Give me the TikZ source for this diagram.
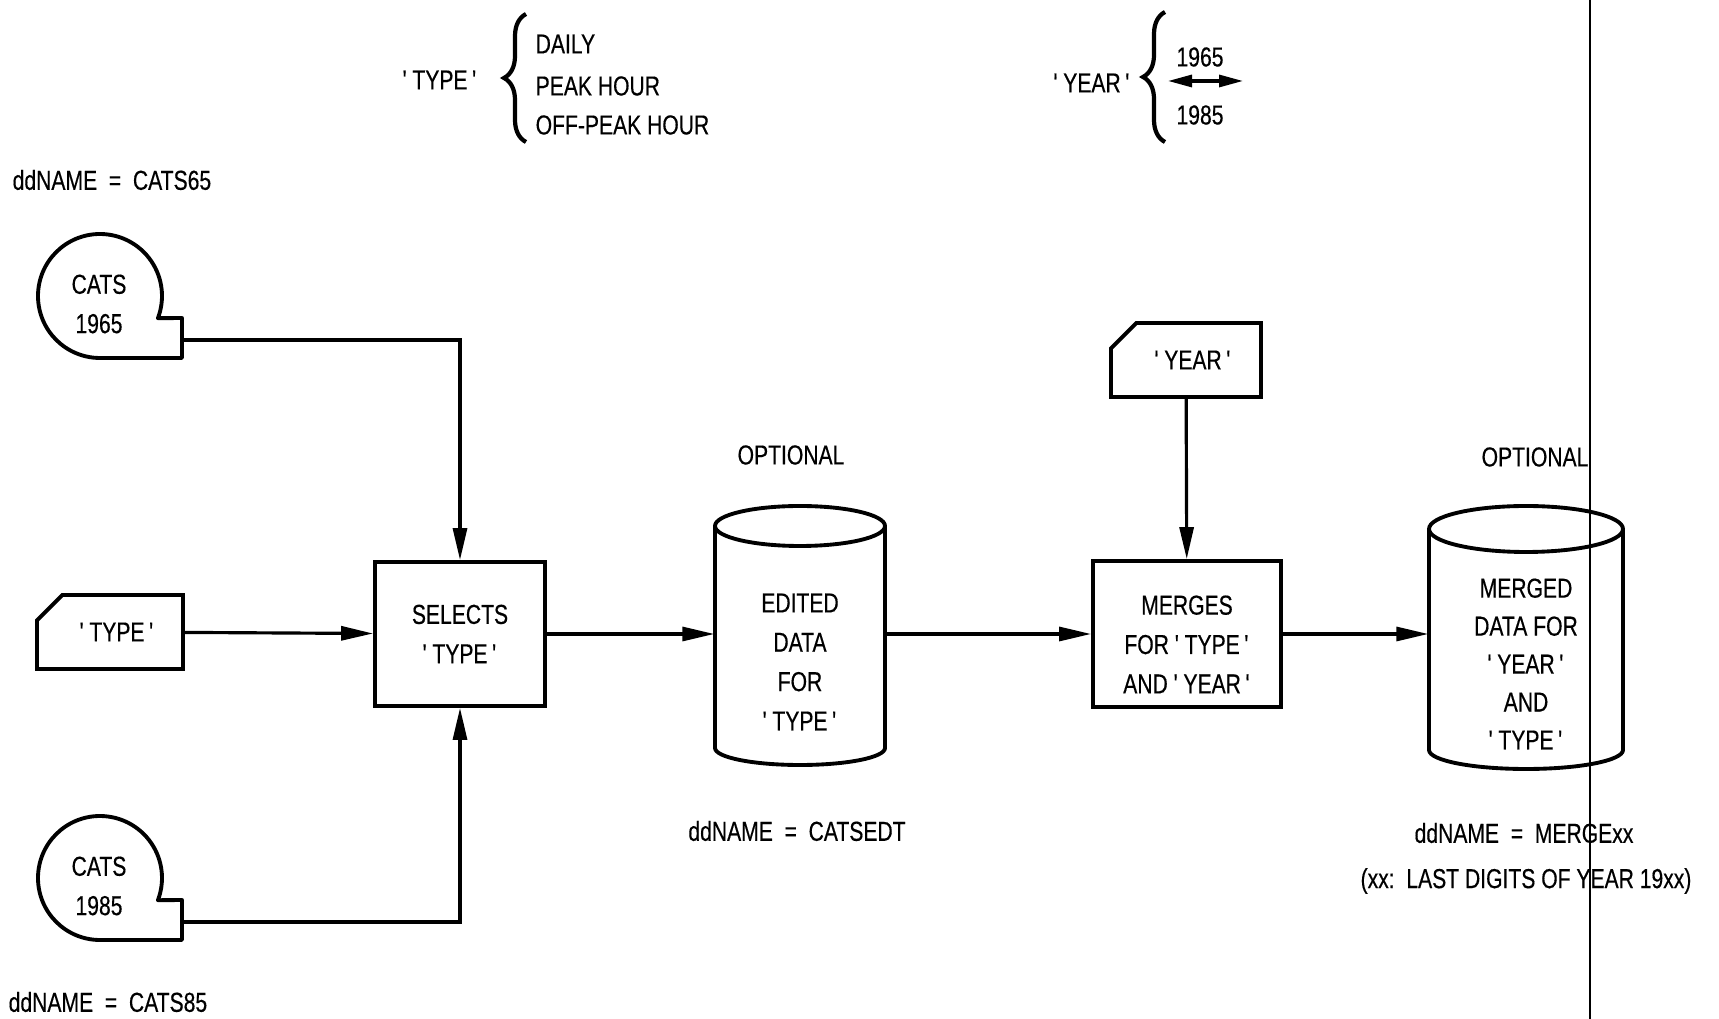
\documentclass[tikz,border=0pt]{standalone}
\usepackage{fontspec}
\setmainfont{Liberation Sans}[FakeStretch=0.77, FakeBold=0.4]
\usetikzlibrary{positioning, shapes.misc, arrows.meta, decorations.pathreplacing}
\newcommand{\quoted}[1]{\textquotesingle\,#1\,\textquotesingle}
\tikzset{
	labelnode/.style={
			inner sep=0pt,
			font=\fontsize{7.8}{11.2}\selectfont,
			align=center
		},
	boxnode/.style={
			labelnode,
			rectangle,
			draw=black,
			line width=1.1pt,
			minimum width=17mm,
			minimum height=14.4mm
		},
	cardnode/.style={
			labelnode,
			chamfered rectangle,
			chamfered rectangle corners=north west,
			chamfered rectangle xsep=1.6mm,
			chamfered rectangle ysep=1.6mm,
			draw=black,
			line width=1.1pt,
			minimum width=14.6mm,
			minimum height=7.4mm
		},
	storenode/.style={
			rectangle,
			draw=none,
			inner sep=0pt,
			minimum width=17mm,
			minimum height=25.8mm
		},
	shapeline/.style={
			line width=1.1pt,
			line join=round
		},
	flow/.style={
			line width=0.9pt,
			-{Triangle[length=3.2mm, width=1.4mm]}
		},
	twoway/.style={
			line width=0.9pt,
			{Triangle[length=2.4mm, width=1.2mm]}-{Triangle[length=2.4mm, width=1.2mm]}
		},
	bracestyle/.style={
			decorate,
			decoration={brace, amplitude=2.2mm},
			line width=1.2pt
		}
}

\begin{document}
\begin{tikzpicture}[x=0.1mm, y=0.1mm]
\useasboundingbox (0,0) rectangle (1719,-1019);

% legend for 'TYPE' and 'YEAR'
\node[labelnode] (typelbl) at (440,-80) {\quoted{TYPE}};
\draw[bracestyle] (526,-142) -- (526,-14);
\node[labelnode, anchor=west] (daily) at (535,-44) {DAILY};
\node[labelnode, anchor=west] (peak) at (535,-86) {PEAK HOUR};
\node[labelnode, anchor=west] (offpeak) at (535,-125) {OFF-PEAK HOUR};

\node[labelnode] (yearlbl) at (1092,-83) {\quoted{YEAR}};
\draw[bracestyle] (1165,-142) -- (1165,-12);
\node[labelnode] (y65) at (1200,-57) {1965};
\node[labelnode] (y85) at (1200,-115) {1985};
\coordinate (yl) at (1168,-81);
\coordinate (yr) at (1243,-81);
\draw[twoway] (yl) -- (yr);

% input tapes
\coordinate (t65) at (100,-296);
\coordinate (t85) at (100,-878);
\draw[shapeline, shift={(t65)}] (0,-62) arc[start angle=270, end angle=-21, radius=62] -- (82,-22) -- (82,-62) -- cycle;
\draw[shapeline, shift={(t85)}] (0,-62) arc[start angle=270, end angle=-21, radius=62] -- (82,-22) -- (82,-62) -- cycle;
\node[labelnode] (cats65) at (99,-304) {CATS\\1965};
\node[labelnode] (cats85) at (99,-886) {CATS\\1985};
\coordinate (cats65_out) at (182,-340);
\coordinate (cats85_out) at (182,-922);
\node[labelnode, anchor=west] (dd65) at (12,-180) {ddNAME~~=~~CATS65};
\node[labelnode, anchor=west] (dd85) at (8,-1002) {ddNAME~~=~~CATS85};

% cards and steps
\node[cardnode] (type_in) at (110,-632) {\hspace{1.4mm}\quoted{TYPE}};
\node[boxnode] (sel) at (460,-634) {SELECTS\\\quoted{TYPE}};
\node[cardnode, minimum width=15mm] (year_in) at (1186,-360) {\hspace{1.4mm}\quoted{YEAR}};
\node[boxnode, minimum width=18.8mm, minimum height=14.6mm] (mrg) at (1187,-634) {\rule{0pt}{4mm}MERGES\\FOR \quoted{TYPE}\\AND \quoted{YEAR}};

% data sets
\node[storenode] (edt) at (800,-634) {};
\draw[shapeline, shift={(edt.center)}] (-85,108) -- (-85,-114) arc[start angle=180, end angle=360, x radius=85, y radius=17] -- (85,108);
\draw[shapeline, shift={(edt.center)}] (0,108) ellipse[x radius=85, y radius=20];
\node[labelnode] (edt_txt) at (800,-662) {EDITED\\DATA\\FOR\\\quoted{TYPE}};
\node[labelnode] (opt1) at (791,-455) {OPTIONAL};
\node[labelnode] (dd_edt) at (797,-831) {ddNAME~~=~~CATSEDT};

\node[storenode, minimum width=19.4mm, minimum height=26.4mm] (mgd) at (1526,-634) {};
\draw[shapeline, shift={(mgd.center)}] (-97,105) -- (-97,-116) arc[start angle=180, end angle=360, x radius=97, y radius=19] -- (97,105);
\draw[shapeline, shift={(mgd.center)}] (0,105) ellipse[x radius=97, y radius=23];
\node[labelnode, font=\fontsize{7.8}{10.8}\selectfont] (mgd_txt) at (1526,-664) {MERGED\\DATA FOR\\\quoted{YEAR}\\AND\\\quoted{TYPE}};
\node[labelnode] (opt2) at (1535,-457) {OPTIONAL};
\node[labelnode] (dd_mgd) at (1524,-833) {ddNAME~~=~~MERGExx};
\node[labelnode] (xxnote) at (1526,-881) {(xx:~~LAST DIGITS OF YEAR 19xx)};

% page edge
\draw[line width=0.4pt] (1590,0) -- (1590,-1019);

\draw[flow] (cats65_out) -| (sel);
\draw[flow] (type_in) -- (sel);
\draw[flow] (cats85_out) -| (sel);
\draw[flow] (sel) -- (edt);
\draw[flow] (edt) -- (mrg);
\draw[flow] (year_in) -- (mrg);
\draw[flow] (mrg) -- (mgd);

\end{tikzpicture}
\end{document}
